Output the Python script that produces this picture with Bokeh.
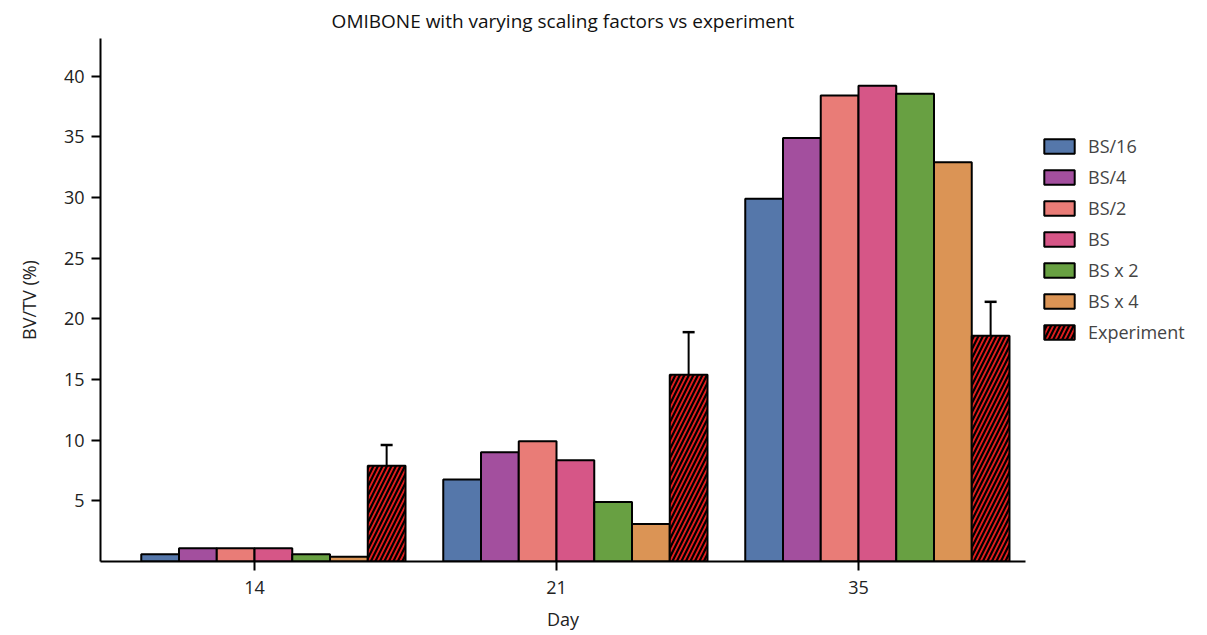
from bokeh.plotting import figure
from bokeh.models import ColumnDataSource, Range1d, FixedTicker, Legend, LegendItem, Whisker, TeeHead
from bokeh.transform import dodge
from bokeh.embed import file_html
from bokeh.resources import INLINE

days = ["14", "21", "35"]
series_names = ["BS/16", "BS/4", "BS/2", "BS", "BS x 2", "BS x 4", "Experiment"]
bs16 = [0.6, 6.75, 29.9]
bs4 = [1.1, 9.0, 34.9]
bs2 = [1.1, 9.9, 38.4]
bs1 = [1.1, 8.35, 39.2]
bsx2 = [0.6, 4.9, 38.55]
bsx4 = [0.4, 3.1, 32.9]
experiment = [7.9, 15.4, 18.6]
experiment_err = [1.7, 3.5, 2.8]
colors = ["#5577AA", "#A34F9E", "#E97C77", "#D65687", "#68A042", "#DB9455", "#E01E1E"]

FONT = "Open Sans"
values = [bs16, bs4, bs2, bs1, bsx2, bsx4, experiment]
xi = list(range(len(days)))
data = {"x": xi}
for n, v in zip(series_names, values):
    data[n] = v
data["upper"] = [e + s for e, s in zip(experiment, experiment_err)]
data["lower"] = [e - s for e, s in zip(experiment, experiment_err)]
src = ColumnDataSource(data)

p = figure(frame_width=925, frame_height=523, output_backend="svg", toolbar_location=None,
           x_range=Range1d(-0.51, 2.553), y_range=Range1d(0, 43.1),
           min_border_left=100, min_border_right=0, min_border_top=37, min_border_bottom=75,
           title="OMIBONE with varying scaling factors vs experiment")
p.title.text_font = FONT
p.title.text_font_size = "19px"
p.title.text_font_style = "normal"
p.title.align = "center"
p.title.text_color = "#111111"

w = 0.125
items = []
for i, (n, c) in enumerate(zip(series_names, colors)):
    kw = {}
    if n == "Experiment":
        kw = dict(hatch_pattern="/", hatch_color="black", hatch_scale=9, hatch_weight=2.2)
    r = p.vbar(x=dodge("x", (i - 2.5) * w, range=p.x_range), top=n, width=w, bottom=0, source=src,
               fill_color=c, line_color="black", line_width=2, **kw)
    items.append(LegendItem(label=n, renderers=[r]))

wh = Whisker(source=src, base=dodge("x", 3.5 * w, range=p.x_range), upper="upper", lower="lower",
             line_color="black", line_width=2,
             upper_head=TeeHead(size=12, line_color="black", line_width=2.5),
             lower_head=TeeHead(size=12, line_color="black", line_width=2.5))
p.add_layout(wh)

legend = Legend(items=items, location=(15, 217), border_line_color=None,
                background_fill_alpha=0, label_text_font=FONT, label_text_font_size="18px",
                glyph_width=38, glyph_height=18, label_height=20, spacing=7,
                label_standoff=10, padding=0, margin=0)
p.add_layout(legend, "right")

p.xgrid.grid_line_color = None
p.ygrid.grid_line_color = None
p.outline_line_color = None

p.xaxis.ticker = FixedTicker(ticks=xi)
p.xaxis.major_label_overrides = {i: d for i, d in zip(xi, days)}
p.yaxis.ticker = FixedTicker(ticks=[5, 10, 15, 20, 25, 30, 35, 40])
for ax in (p.xaxis, p.yaxis):
    ax.axis_line_width = 2
    ax.axis_line_color = "black"
    ax.major_tick_line_width = 2
    ax.major_tick_line_color = "black"
    ax.major_tick_out = 9
    ax.major_tick_in = 0
    ax.minor_tick_line_color = None
    ax.major_label_text_font = FONT
    ax.major_label_text_font_size = "18px"
    ax.major_label_text_color = "#222222"
    ax.axis_label_text_font = FONT
    ax.axis_label_text_font_size = "18px"
    ax.axis_label_text_font_style = "normal"
    ax.axis_label_text_color = "#222222"
p.xaxis.axis_label = "Day"
p.yaxis.axis_label = "BV/TV (%)"
p.xaxis.major_label_standoff = 10
p.yaxis.major_label_standoff = 7
p.xaxis.axis_label_standoff = 10
p.yaxis.axis_label_standoff = 20

open("out.html", "w").write(file_html(p, INLINE))
